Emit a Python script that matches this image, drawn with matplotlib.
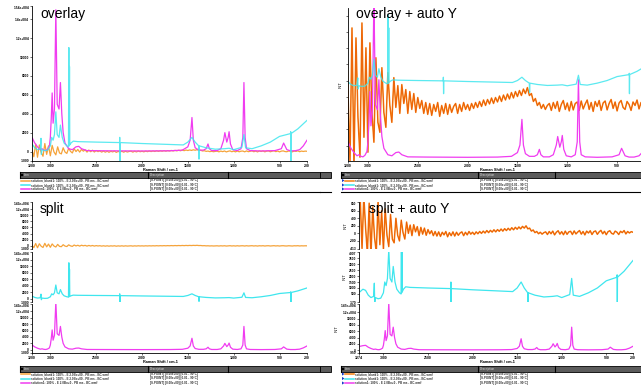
import numpy as np
import matplotlib
matplotlib.use('Agg')
import matplotlib.pyplot as plt
from matplotlib.lines import Line2D
from matplotlib.patches import Rectangle, Polygon

plt.rcParams['font.family'] = ['Liberation Sans', 'DejaVu Sans']

W, H = 641, 385

# ---------------- data (Raman shift in cm-1, intensity in counts) ----------------
magenta_shift = [3260, 3230, 3200, 3170, 3140, 3110, 3090, 3070, 3050, 3030,
                 3010, 3000, 2990, 2980, 2970, 2955, 2940, 2925, 2905, 2890,
                 2875, 2860, 2840, 2800, 2760, 2720, 2690, 2660, 2600, 2400,
                 2000, 1700, 1560, 1500, 1475, 1455, 1440, 1420, 1380, 1330,
                 1300, 1280, 1265, 1240, 1180, 1140, 1110, 1096, 1075, 1060,
                 1050, 1035, 1010, 960, 920, 900, 888, 875, 860, 820,
                 700, 550, 480, 455, 440, 420, 380, 330, 280, 240, 200]
magenta_counts = [1200, 1400, 1500, 900, 500, 200, 300, 150, 100, 250,
                  600, 1500, 3500, 6200, 3000, 4500, 15000, 5000, 4500, 7300,
                  4000, 2000, 900, 300, 200, 500, 550, 300, 100, 80,
                  60, 80, 150, 500, 1200, 3600, 1200, 400, 150, 150,
                  300, 800, 300, 100, 100, 300, 1200, 2000, 1000, 1500,
                  2100, 800, 200, 100, 300, 1500, 7300, 1500, 300, 100,
                  60, 100, 300, 900, 600, 200, 80, 80, 200, 600, 1200]

cyan_shift = [3260, 3230, 3200, 3170, 3140, 3110, 3102, 3098, 3090, 3060,
              3030, 3000, 2985, 2970, 2955, 2940, 2925, 2905, 2890, 2870,
              2850, 2820, 2802, 2798, 2795, 2791, 2788, 2775, 2750, 2700,
              2500, 2245, 2243, 2241, 2239, 2000, 1700, 1550, 1500, 1455,
              1420, 1381, 1378, 1375, 1300, 1200, 1100, 1050, 1000, 910,
              888, 870, 800, 700, 600, 500, 380, 378, 376, 374, 300, 200]
cyan_counts = [700, 900, 800, 400, 200, 300, 1400, -300, 200, 100,
               150, 600, 1500, 1200, 1800, 4200, 1800, 1500, 2800, 1500,
               900, 600, 500, 11000, 600, 9000, 700, 900, 1100, 1050,
               1000, 950, 1500, -1000, 950, 850, 750, 700, 1000, 1500,
               1000, 600, -800, 600, 400, 250, 300, 350, 200, 450,
               1800, 400, 300, 600, 1000, 1600, 1900, 2100, -1000, 1900, 2400, 3300]

# orange: blank spectrum, sampled every 20 cm-1 starting at 3260 cm-1
orange_counts = [900, -400, 1000, 150, -550, 800, -600, 700, -100, -500,
                 850, -300, 600, -450, 650, -50, -350, 500, -150,
                 -250, 400, -50, -200, 350, 20, -150, 300, 0, 220,
                 -60, 230, 40, 180, -60, 160, -20, 140, -50, 100,
                 -10, 70, -60, 50, -70, 40, -80, 30, -40, 50,
                 -90, 20, -60, 40, -70, 30, -50, 10, 40, -60,
                 30, -40, 50, -20, 30,
                 -30, 40, -10, 50, 0, 60, 10, 75, 20, 80,
                 35, 95, 40, 100, 55, 115, 60, 125, 75, 135,
                 85, 150, 95, 160, 110, 170, 120, 185, 140, 200,
                 120, 140, 60, 90, 20, 50, -10, 30, -20, 20,
                 40, -30, 50, -10, 60, -40, 30, 70, -20, 45,
                 -35, 60, -25, 40, 55, -30, 65, -15, 35, 75,
                 -20, 50, -40, 60, 10, 70, -30, 45, 65, -25,
                 40, 80, -10, 55, -35, 45, 70, 0, -20, 60,
                 30, -30, 55, 20, 75, -15, 50, 10, 45, 30]
orange_shift = 3260 - 20 * np.arange(len(orange_counts))

panel_titles = ['overlay', 'overlay + auto Y', 'split', 'split + auto Y']
x_label = 'Raman Shift / cm-1'

xt_a = [3200, 3000, 2500, 2000, 1500, 1000, 500, 200]
xt_tr = [3200, 3000, 2500, 2000, 1500, 1000, 500]
xt_b = [3274, 3000, 2500, 2000, 1500, 1000, 500, 200]

yt_overlay = [-1000, 0, 2000, 4000, 6000, 8000, 10000, 12000, 14000, 15400]
yl_overlay = ['-1000', '0', '2000', '4000', '6000', '8000', '10000', '1.2e+004', '1.4e+004', '1.54e+004']
yt_split = [-1000, 0, 2000, 4000, 6000, 8000, 10000, 12000, 14300]
yl_split = ['-1000', '0', '2000', '4000', '6000', '8000', '10000', '1.2e+004', '1.43e+004']
yt_auto_o = [-413, -200, 0, 200, 400, 600, 830]
yt_auto_c = [-170, 500, 1000, 1500, 2000, 2500, 3000, 3500, 4007]
yt_auto_m = [-950, 0, 2000, 4000, 6000, 8000, 10000, 12000, 14700]
yl_auto_m = ['-950', '0', '2000', '4000', '6000', '8000', '10000', '1.2e+004', '1.47e+004']

legend_items = ['solution_blank1: 100% - E 2.0Bo+00 - PB ms - BC.wmf',
                'solution_blank1: 100% - E 2.0Bo+00 - PB ms - BC.wmf',
                'solution1: 100% - E 2.0Bo+0 - PB ms - BC.wmf']
legend_desc = ['[S.POINT] [0.00e+00] [0.01 - 90°C]',
               '[S.POINT] [0.00e+00] [0.01 - 90°C]',
               '[S.POINT] [0.00e+00] [0.01 - 90°C]']

ORANGE_L = '#f5a33a'
ORANGE_R = '#f58010'
RED_CORE = '#e03a00'
CYAN = '#3fe6ee'
MAGENTA = '#f03cf0'
series_colors = [ORANGE_L, CYAN, MAGENTA]

# ---------------- figure ----------------
fig = plt.figure(figsize=(W / 100, H / 100), dpi=100)
fig.patch.set_facecolor('white')

TFS = 2.3


def px_axes(l, t, r, b):
    ax = fig.add_axes([l / W, 1 - b / H, (r - l) / W, (b - t) / H])
    ax.patch.set_alpha(0)
    for s in ['top', 'right']:
        ax.spines[s].set_visible(False)
    for s in ['left', 'bottom']:
        ax.spines[s].set_linewidth(0.6)
    ax.tick_params(labelsize=TFS, length=1.5, width=0.4, pad=0.6)
    return ax


def set_xt(ax, ticks, show=True):
    ax.set_xticks(ticks)
    if show:
        ax.set_xticklabels([str(t) for t in ticks], fontsize=TFS + 0.2, fontweight='bold')
    else:
        ax.set_xticklabels([])
        ax.tick_params(axis='x', length=0)
        ax.spines['bottom'].set_visible(False)


def set_yt(ax, ticks, labels=None):
    ax.set_yticks(ticks)
    if labels is None:
        labels = [str(t) for t in ticks]
    texts = ax.set_yticklabels(labels, fontsize=TFS, fontweight='bold')
    texts[-1].set_va('top')


lw = 0.9

# ---- top-left: overlay ----
ax = px_axes(32, 6, 307, 161)
ax.plot(orange_shift, orange_counts, color=ORANGE_L, lw=lw)
ax.plot(magenta_shift, magenta_counts, color=MAGENTA, lw=lw)
ax.plot(cyan_shift, cyan_counts, color=CYAN, lw=lw, alpha=0.85)
ax.set_xlim(3200, 200)
ax.set_ylim(-1000, 15400)
set_xt(ax, xt_a)
set_yt(ax, yt_overlay, yl_overlay)

# ---- top-right: overlay + auto Y (each trace scaled to its own range) ----
ax = px_axes(348, 8, 647, 161)
o_tr = 0.35 + 6.5e-4 * np.asarray(orange_counts)
ax.plot(orange_shift, o_tr, color=ORANGE_R, lw=1.1)
ax.plot(orange_shift, o_tr, color=RED_CORE, lw=0.35, alpha=0.7)
ax.plot(magenta_shift, 0.02 + 7.0e-5 * np.asarray(magenta_counts), color=MAGENTA, lw=lw)
ax.plot(cyan_shift, 0.483 + 4.3e-5 * np.asarray(cyan_counts), color=CYAN, lw=lw, alpha=0.85)
ax.set_xlim(3200, 200)
ax.set_ylim(0, 1)
set_xt(ax, xt_tr)
ax.set_yticks(np.linspace(0.1, 0.95, 9))
ax.set_yticklabels([])
ax.set_ylabel('INT', fontsize=3, labelpad=1.5)

# ---- bottom-left: split ----
rows = [(202, 249), (252, 302), (304, 353)]
data = [(orange_shift, orange_counts), (cyan_shift, cyan_counts), (magenta_shift, magenta_counts)]
for i, ((t, b), (xs, ys)) in enumerate(zip(rows, data)):
    ax = px_axes(32, t, 307, b)
    ax.plot(xs, ys, color=series_colors[i], lw=lw)
    ax.set_xlim(3200, 200)
    ax.set_ylim(-1000, 14300)
    set_yt(ax, yt_split, yl_split)
    set_xt(ax, xt_a, show=(i == 2))

# ---- bottom-right: split + auto Y ----
auto_lims = [(-413, 830), (-170, 4007), (-950, 14700)]
auto_ticks = [(yt_auto_o, None), (yt_auto_c, None), (yt_auto_m, yl_auto_m)]
auto_cols = [ORANGE_R, CYAN, MAGENTA]
for i, ((t, b), (xs, ys)) in enumerate(zip(rows, data)):
    ax = px_axes(359, t, 633, b)
    ax.plot(xs, ys, color=auto_cols[i], lw=1.1 if i == 0 else lw)
    if i == 0:
        ax.plot(xs, ys, color=RED_CORE, lw=0.35, alpha=0.7)
    ax.set_xlim(3274, 200)
    ax.set_ylim(*auto_lims[i])
    set_yt(ax, auto_ticks[i][0], auto_ticks[i][1])
    set_xt(ax, xt_b, show=(i == 2))
    ax.set_ylabel('INT', fontsize=3, labelpad=1.5)


# ---- titles and axis labels ----
def ftext(x, y, s, **kw):
    fig.text(x / W, 1 - y / H, s, **kw)


ftext(40, 18, panel_titles[0], fontsize=10, va='baseline')
ftext(356, 18, panel_titles[1], fontsize=10, va='baseline')
ftext(40, 213, panel_titles[2], fontsize=10, va='baseline')
ftext(369, 213, panel_titles[3], fontsize=10, va='baseline')
for cx, cy in [(160, 169.6), (497, 169.6), (160, 362), (497, 362)]:
    ftext(cx, cy, x_label, fontsize=2.8, ha='center', va='center', fontweight='bold')


# ---- legend tables ----
def rect(x0, y0, x1, y1, fc, ec='black', lw_=0.6):
    fig.add_artist(Rectangle((x0 / W, 1 - y1 / H), (x1 - x0) / W, (y1 - y0) / H,
                             transform=fig.transFigure, facecolor=fc, edgecolor=ec, lw=lw_))


def hline(x0, x1, y, color='black', lw_=0.6):
    fig.add_artist(Line2D([x0 / W, x1 / W], [1 - y / H, 1 - y / H], color=color, lw=lw_,
                          transform=fig.transFigure))


def vline(x, y0, y1, color='black', lw_=0.8):
    fig.add_artist(Line2D([x / W, x / W], [1 - y0 / H, 1 - y1 / H], color=color, lw=lw_,
                          transform=fig.transFigure))


def legend_block(x0, x1, yb0, yb1, row_ys, dividers, desc_x, arrows, cols):
    rect(x0, yb0, x1, yb1, '#5c5c5c')
    for d in dividers:
        vline(d, yb0, yb1)
    rect(x0 + 1, yb0 + 2, x0 + 3, yb0 + 4, 'black', lw_=0.2)
    ftext(x0 + 4, (yb0 + yb1) / 2, 'Item', fontsize=2.2, color='#d8d8d8', va='center')
    ftext(desc_x + 2, (yb0 + yb1) / 2, 'Description', fontsize=2.2, color='#d8d8d8', va='center')
    for k, y in enumerate(row_ys):
        lx = x0 + 1
        if arrows:
            fig.add_artist(Polygon([((x0 + 1) / W, 1 - (y - 1.6) / H), ((x0 + 1) / W, 1 - (y + 1.6) / H),
                                    ((x0 + 3.5) / W, 1 - y / H)], closed=True,
                                   transform=fig.transFigure, facecolor='#1a3cc8', edgecolor='none'))
            lx = x0 + 4
        hline(lx, lx + 9, y, color=cols[k], lw_=1.1)
        ftext(lx + 10, y, legend_items[k], fontsize=2.2, color='#333333', va='center', fontweight='bold')
        ftext(desc_x + 2, y, legend_desc[k], fontsize=2.2, color='#333333', va='center', fontweight='bold')
    hline(x0, x1, row_ys[-1] + 2.5, lw_=0.8)


legend_block(20, 320, 172, 178, [180.5, 185, 189], [20, 148, 228], 148, False, series_colors)
legend_block(341, 641, 172, 178, [180.5, 185, 189], [341, 478, 555], 478, True, auto_cols)
rect(320, 172, 331, 178, '#5c5c5c')
hline(320, 331, 191.5, lw_=0.8)
legend_block(20, 320, 366, 372, [374, 378.5, 383], [20, 148, 228], 148, False, series_colors)
legend_block(341, 641, 366, 372, [374, 378.5, 383], [341, 478, 555], 478, True, auto_cols)
rect(320, 366, 331, 372, '#5c5c5c')

fig.savefig('out.png', dpi=100, facecolor='white')
